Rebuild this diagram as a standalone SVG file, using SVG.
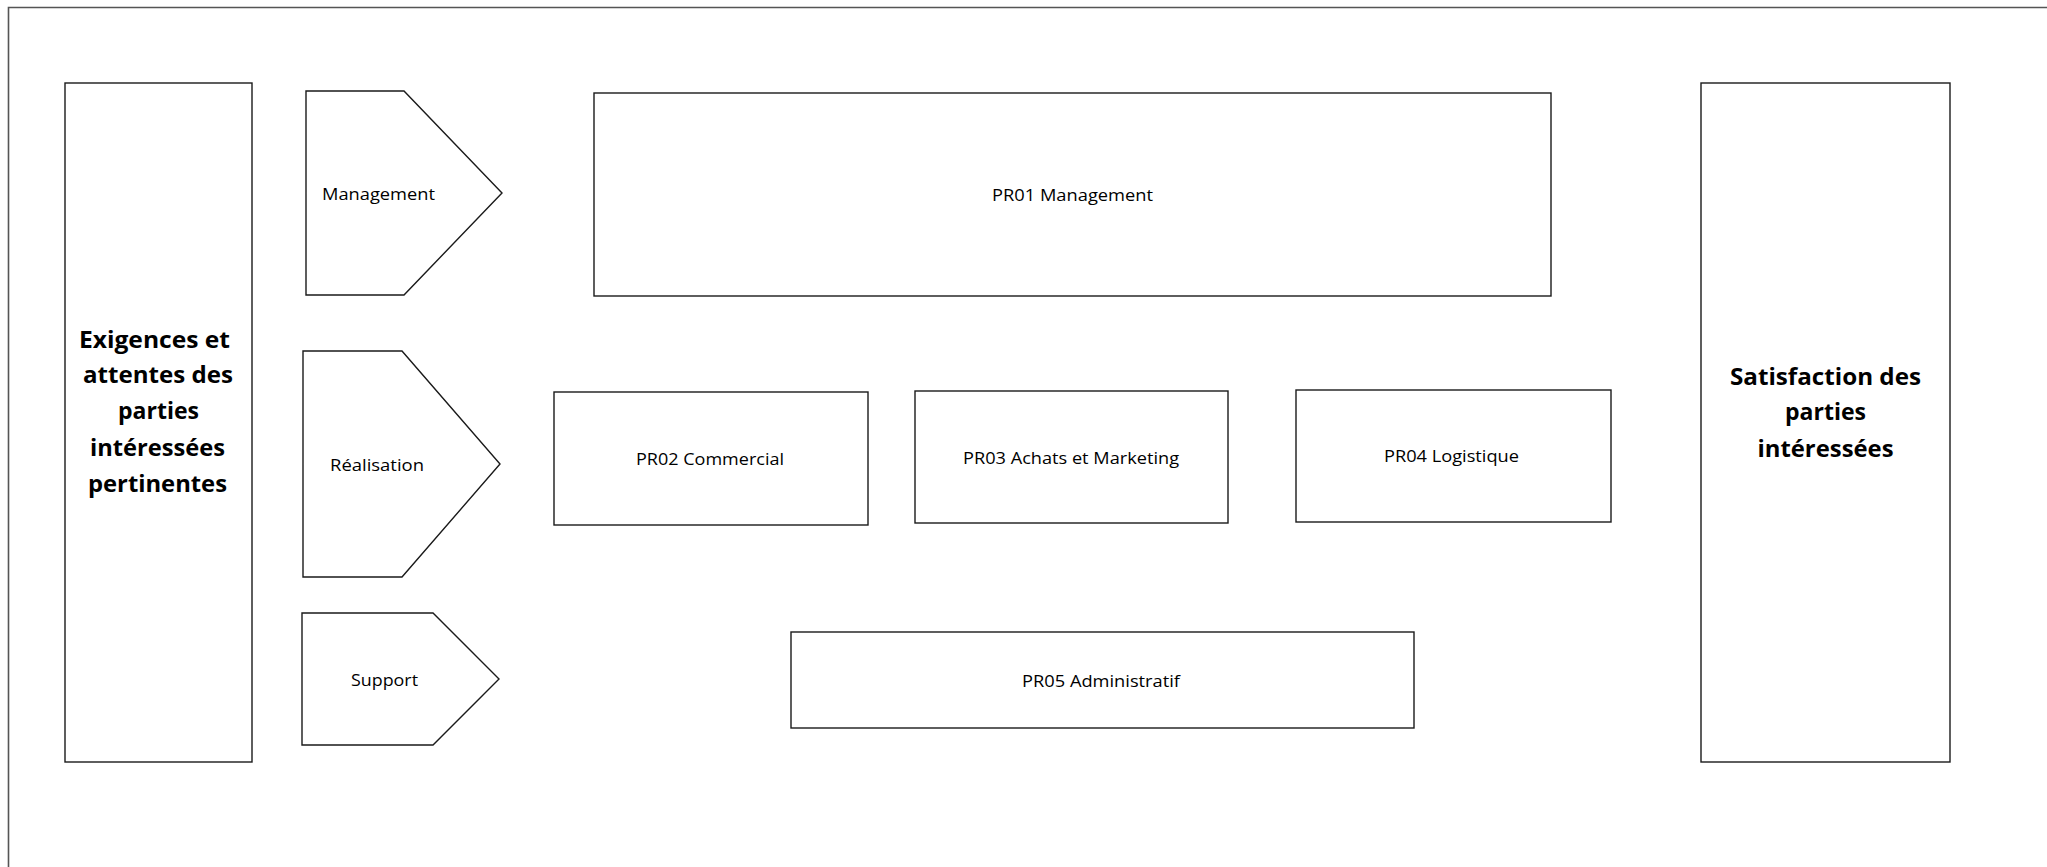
<svg xmlns="http://www.w3.org/2000/svg" width="2047" height="867" viewBox="0 0 2047 867">
<style>
.box{fill:#fff;stroke:#1a1a1a;stroke-width:1.4}
.frame{fill:none;stroke:#555;stroke-width:1.6}
.t{font-family:"Open Sans","Liberation Sans",sans-serif;font-size:15.5px;fill:#000}
.b{font-family:"Open Sans","Liberation Sans",sans-serif;font-size:24px;font-weight:bold;fill:#000;text-anchor:middle}
</style>
<rect width="2047" height="867" fill="#fff"/>
<path class="frame" d="M8.5,867 V7.5 H2047"/>
<g id="exigences">
<rect class="box" x="65" y="83" width="187" height="679"/>
<text class="b" x="154.5" y="348" textLength="151" lengthAdjust="spacingAndGlyphs">Exigences et</text>
<text class="b" x="158" y="383" textLength="150" lengthAdjust="spacingAndGlyphs">attentes des</text>
<text class="b" x="158.5" y="419" textLength="81" lengthAdjust="spacingAndGlyphs">parties</text>
<text class="b" x="157.5" y="456" textLength="135" lengthAdjust="spacingAndGlyphs">intéressées</text>
<text class="b" x="157.5" y="492" textLength="139" lengthAdjust="spacingAndGlyphs">pertinentes</text>
</g>
<g id="satisfaction">
<rect class="box" x="1701" y="83" width="249" height="679"/>
<text class="b" x="1825.5" y="385" textLength="191" lengthAdjust="spacingAndGlyphs">Satisfaction des</text>
<text class="b" x="1825.5" y="420" textLength="81" lengthAdjust="spacingAndGlyphs">parties</text>
<text class="b" x="1825.5" y="457" textLength="136" lengthAdjust="spacingAndGlyphs">intéressées</text>
</g>
<g id="chev-management">
<polygon class="box" points="306,91 404,91 502,193 404,295 306,295"/>
<text class="t" x="322" y="200" textLength="113" lengthAdjust="spacingAndGlyphs">Management</text>
</g>
<g id="chev-realisation">
<polygon class="box" points="303,351 402,351 500,464 402,577 303,577"/>
<text class="t" x="330" y="471" textLength="94" lengthAdjust="spacingAndGlyphs">Réalisation</text>
</g>
<g id="chev-support">
<polygon class="box" points="302,613 433,613 499,679 433,745 302,745"/>
<text class="t" x="351" y="686" textLength="67" lengthAdjust="spacingAndGlyphs">Support</text>
</g>
<g id="pr01">
<rect class="box" x="594" y="93" width="957" height="203"/>
<text class="t" x="992" y="201" textLength="161" lengthAdjust="spacingAndGlyphs">PR01 Management</text>
</g>
<g id="pr02">
<rect class="box" x="554" y="392" width="314" height="133"/>
<text class="t" x="636" y="465" textLength="148" lengthAdjust="spacingAndGlyphs">PR02 Commercial</text>
</g>
<g id="pr03">
<rect class="box" x="915" y="391" width="313" height="132"/>
<text class="t" x="963" y="464" textLength="216" lengthAdjust="spacingAndGlyphs">PR03 Achats et Marketing</text>
</g>
<g id="pr04">
<rect class="box" x="1296" y="390" width="315" height="132"/>
<text class="t" x="1384" y="462" textLength="135" lengthAdjust="spacingAndGlyphs">PR04 Logistique</text>
</g>
<g id="pr05">
<rect class="box" x="791" y="632" width="623" height="96"/>
<text class="t" x="1022" y="687" textLength="158" lengthAdjust="spacingAndGlyphs">PR05 Administratif</text>
</g>
<g id="connectors"></g>
</svg>
